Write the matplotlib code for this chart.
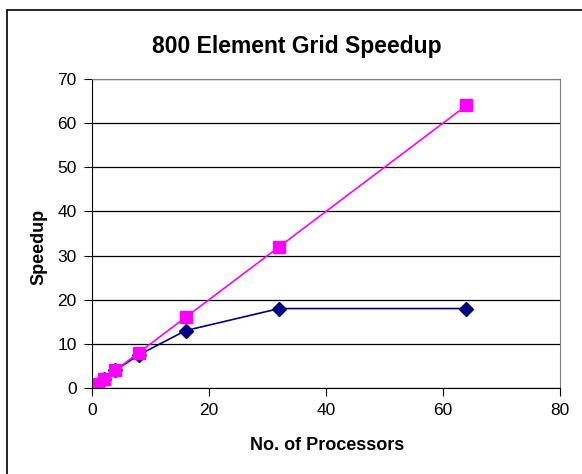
import matplotlib.pyplot as plt
import matplotlib.patches as patches

plt.rcParams['font.family'] = ['Liberation Sans', 'DejaVu Sans']

processors = [1, 2, 4, 8, 16, 32, 64]
actual_speedup = [1, 2, 4, 7.5, 13, 18, 18]
ideal_speedup = [1, 2, 4, 8, 16, 32, 64]

fig = plt.figure(figsize=(5.82, 4.74), dpi=100)
ax = fig.add_axes([92 / 582, 1 - 388 / 474, (560 - 92) / 582, (388 - 79) / 474])

# outer chart frame (runs off the right and bottom edge)
frame = patches.Rectangle((7 / 582, -0.5), 2, 1.5 - 10 / 474, transform=fig.transFigure,
                          fill=False, edgecolor='black', linewidth=1.2)
fig.patches.append(frame)

ax.plot(processors, actual_speedup, color='#000080', marker='D', markersize=7.5, linewidth=1.2)
ax.plot(processors, ideal_speedup, color='#FF00FF', marker='s', markersize=9, linewidth=1.2)

ax.set_xlim(0, 80)
ax.set_ylim(0, 70)
ax.set_xticks([0, 20, 40, 60, 80])
ax.set_yticks([0, 10, 20, 30, 40, 50, 60, 70])
ax.yaxis.grid(True, color='black', linewidth=0.9)
ax.set_axisbelow(True)

for side in ['top', 'right']:
    ax.spines[side].set_color('#808080')
for side in ['left', 'bottom']:
    ax.spines[side].set_color('black')
ax.tick_params(direction='out', length=6, labelsize=12.5, pad=5)

fig.text(297 / 582, 1 - 46 / 474, '800 Element Grid Speedup', fontsize=16.5,
         fontweight='bold', ha='center', va='center')
fig.text(327 / 582, 1 - 446 / 474, 'No. of Processors', fontsize=13,
         fontweight='bold', ha='center', va='center')
fig.text(39 / 582, 1 - 247 / 474, 'Speedup', fontsize=13, fontweight='bold',
         rotation=90, ha='center', va='center')

fig.savefig('out.png', dpi=100)
